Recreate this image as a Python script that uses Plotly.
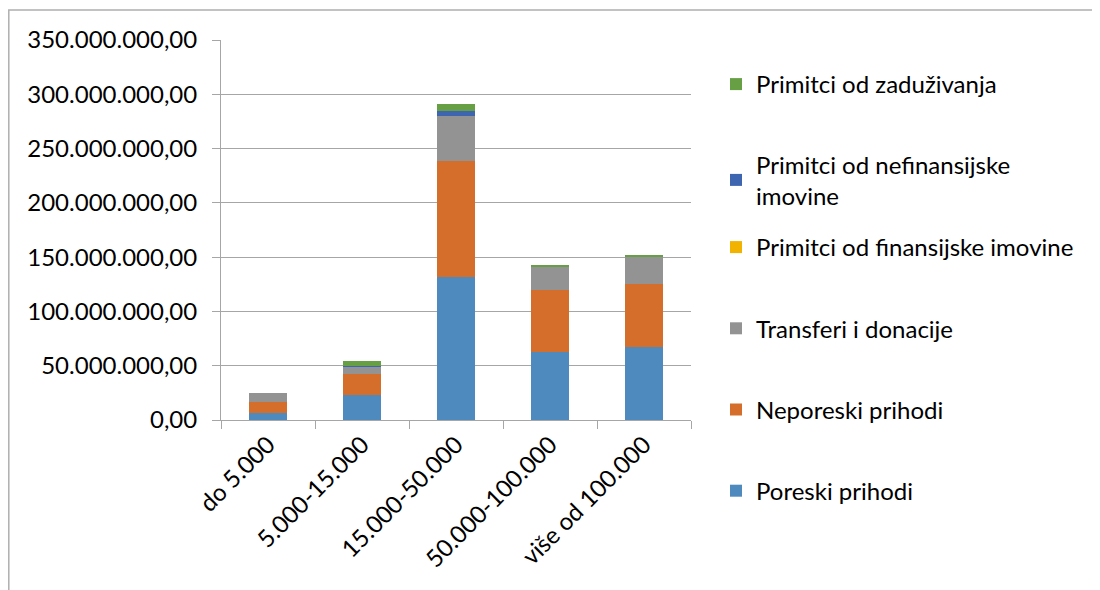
import plotly.graph_objects as go

categories = ["do 5.000", "5.000-15.000", "15.000-50.000", "50.000-100.000", "više od 100.000"]

poreski_prihodi = [6.0e6, 22.7e6, 131.5e6, 62.4e6, 67.0e6]
neporeski_prihodi = [10.7e6, 19.9e6, 106.6e6, 57.7e6, 58.0e6]
transferi_i_donacije = [8.0e6, 6.4e6, 42.0e6, 21.2e6, 25.4e6]
primitci_finansijske = [0.0, 0.2e6, 0.3e6, 0.2e6, 0.2e6]
primitci_nefinansijske = [0.0, 1.0e6, 4.6e6, 0.3e6, 0.3e6]
primitci_zaduzivanja = [0.0, 4.0e6, 6.1e6, 1.0e6, 1.0e6]

y_ticks = [0, 50e6, 100e6, 150e6, 200e6, 250e6, 300e6, 350e6]

series = [
    ("Poreski prihodi", poreski_prihodi, "#4F8ABE", "legend"),
    ("Neporeski prihodi", neporeski_prihodi, "#D46E2A", "legend"),
    ("Transferi i donacije", transferi_i_donacije, "#939393", "legend"),
    ("Primitci od finansijske imovine", primitci_finansijske, "#F2B200", "legend"),
    ("Primitci od nefinansijske<br>imovine", primitci_nefinansijske, "#3E66B0", "legend2"),
    ("Primitci od zaduživanja", primitci_zaduzivanja, "#67A044", "legend2"),
]

FONT = "Lato"
FS = 24
fig = go.Figure()
n = len(series)
for i, (name, vals, col, leg) in enumerate(series):
    fig.add_trace(go.Bar(
        x=categories, y=vals, name=name, legendgroup=f"g{i}",
        legendrank=100 * (n - i), legend=leg,
        marker=dict(color=col, line=dict(color=col, width=0)),
    ))

# body margin of 8px offsets the figure on screen
OFF = 8
W, H = 1100 - OFF, 590 - OFF
L, R, T, B = 221 - OFF, 691 - OFF, 40 - OFF, 420 - OFF
pw, ph = R - L, B - T

def px(x):
    return (x - OFF - L) / pw

def py(y):
    return (B - (y - OFF)) / ph

legend_common = dict(
    xanchor="left", yanchor="top", traceorder="grouped",
    font=dict(family=FONT, size=FS, color="#000000"),
    bgcolor="rgba(0,0,0,0)", maxheight=560,
)

fig.update_layout(
    width=W, height=H,
    margin=dict(l=L, r=W - R, t=T, b=H - B),
    barmode="stack", bargap=0.6,
    separators=",.",
    paper_bgcolor="white", plot_bgcolor="white",
    font=dict(family=FONT, size=FS, color="#000000"),
    showlegend=True,
    legend=dict(x=px(716), y=py(225), tracegroupgap=47, **legend_common),
    legend2=dict(x=px(716), y=py(62), tracegroupgap=46, **legend_common),
    xaxis=dict(
        type="category", tickangle=-45, tickson="boundaries",
        ticks="outside", ticklen=8, tickcolor="#A6A6A6",
        showline=True, linecolor="#A6A6A6", linewidth=1,
        showgrid=False,
        tickfont=dict(family=FONT, size=FS),
    ),
    yaxis=dict(
        range=[0, 350e6], tickvals=y_ticks, tickformat=",.2f",
        ticks="outside", ticklen=8, tickcolor="#A6A6A6",
        showline=True, linecolor="#A6A6A6", linewidth=1,
        showgrid=True, gridcolor="#A6A6A6", gridwidth=1,
        zeroline=False,
        ticklabelstandoff=10,
        tickfont=dict(family=FONT, size=FS),
    ),
    shapes=[dict(
        type="rect", xref="paper", yref="paper", layer="below",
        x0=px(OFF + 0.8), x1=px(1130), y0=py(620), y1=py(10),
        line=dict(color="#AFAFAF", width=1.5), fillcolor="rgba(0,0,0,0)",
    )],
)

fig.write_html("out.html")
